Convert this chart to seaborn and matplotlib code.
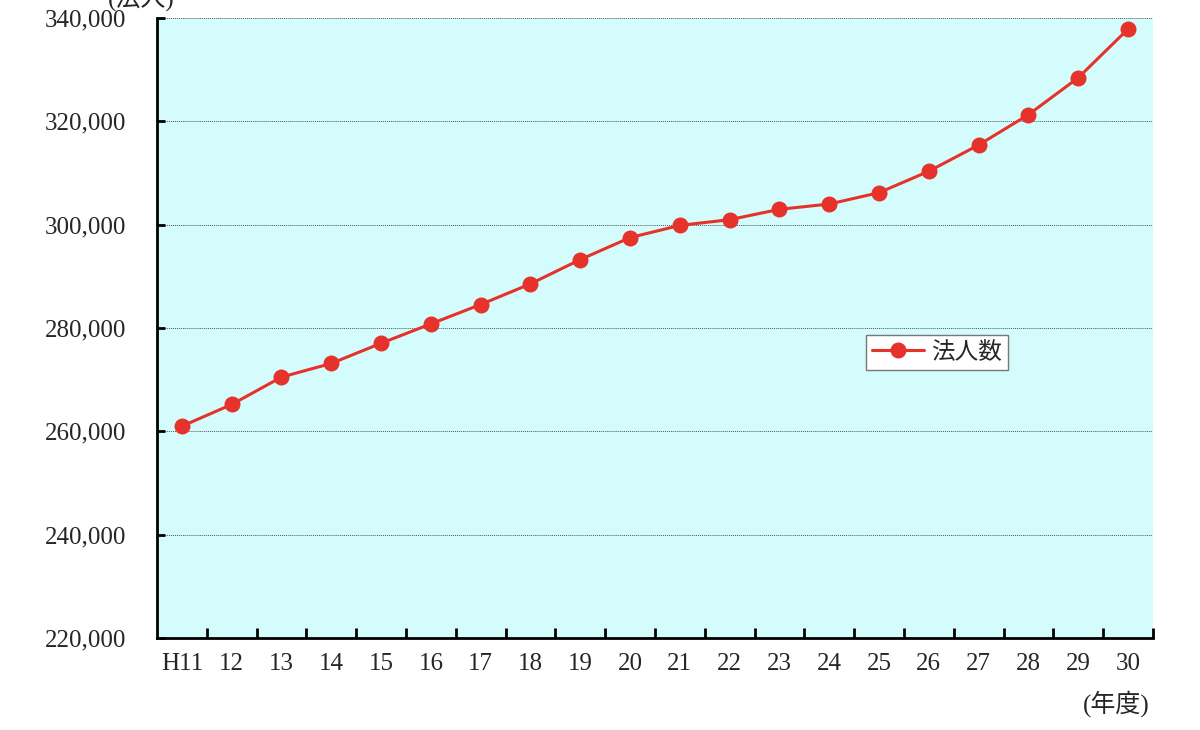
import seaborn as sns
import pandas as pd
import matplotlib.pyplot as plt
from matplotlib.ticker import FuncFormatter, MultipleLocator, FixedLocator

# fiscal years (Heisei) and number of corporations
years = ['H11', '12', '13', '14', '15', '16', '17', '18', '19', '20',
         '21', '22', '23', '24', '25', '26', '27', '28', '29', '30']
corporations = [261000, 265200, 270500, 273150, 277050, 280800, 284550, 288550, 293250, 297500,
                299870, 300970, 302980, 304000, 306200, 310350, 315430, 321300, 328450, 337870]

sns.set_theme(style='white')
plt.rcParams['font.family'] = ['Liberation Serif', 'Noto Sans CJK JP', 'DejaVu Sans']

df = pd.DataFrame({'year': years, 'count': corporations})
df['pos'] = range(len(df))

fig = plt.figure(figsize=(12, 7.3), dpi=100)
ax = fig.add_axes([0.1308, 0.126, 0.83, 0.8493])
ax.set_facecolor('#D4FCFC')

sns.lineplot(data=df, x='pos', y='count', ax=ax, color='#E5322A', linewidth=2.2,
             marker='o', markersize=11.5, markeredgewidth=0, label='法人数', sort=False)

ax.set_xlim(-0.5, len(years) - 0.5)
ax.set_ylim(220000, 340000)
ax.yaxis.set_major_locator(MultipleLocator(20000))
ax.yaxis.set_major_formatter(FuncFormatter(lambda v, p: f'{int(v):,}'))
ax.xaxis.set_major_locator(FixedLocator(list(df['pos'])))
ax.set_xticklabels(years)
ax.xaxis.set_minor_locator(FixedLocator([i + 0.5 for i in range(len(years))]))

ax.grid(axis='y', which='major', color='#555555', linestyle=(0, (1, 1)), linewidth=0.7)
ax.set_axisbelow(True)

for s in ['top', 'right']:
    ax.spines[s].set_visible(False)
for s in ['left', 'bottom']:
    ax.spines[s].set_color('black')
    ax.spines[s].set_linewidth(2)

ax.tick_params(axis='y', which='major', direction='in', length=6, width=2, color='black',
               labelsize=18, pad=22, left=True)
ax.tick_params(axis='x', which='major', length=0, labelsize=18, pad=11)
ax.tick_params(axis='x', which='minor', direction='in', length=7, width=2, color='black', bottom=True)

ax.set_xlabel('')
ax.set_ylabel('')

leg = ax.legend(loc='center', bbox_to_anchor=(0.783, 0.461), fontsize=17, frameon=True,
                fancybox=False, edgecolor='#777777', framealpha=1, borderpad=0.25,
                handlelength=2.2, handletextpad=0.3)
leg.get_frame().set_linewidth(1)
for t in leg.get_texts():
    t.set_family(['Noto Sans CJK JP', 'DejaVu Sans'])

fig.text(0.958, 0.036, '(年度)', ha='right', va='center', fontsize=18,
         family=['Liberation Serif', 'Noto Sans CJK JP', 'DejaVu Sans'])
fig.text(0.118, 1.003, '(法人)', ha='center', va='center', fontsize=18,
         family=['Liberation Serif', 'Noto Sans CJK JP', 'DejaVu Sans'])

fig.savefig('out.png', dpi=100)
